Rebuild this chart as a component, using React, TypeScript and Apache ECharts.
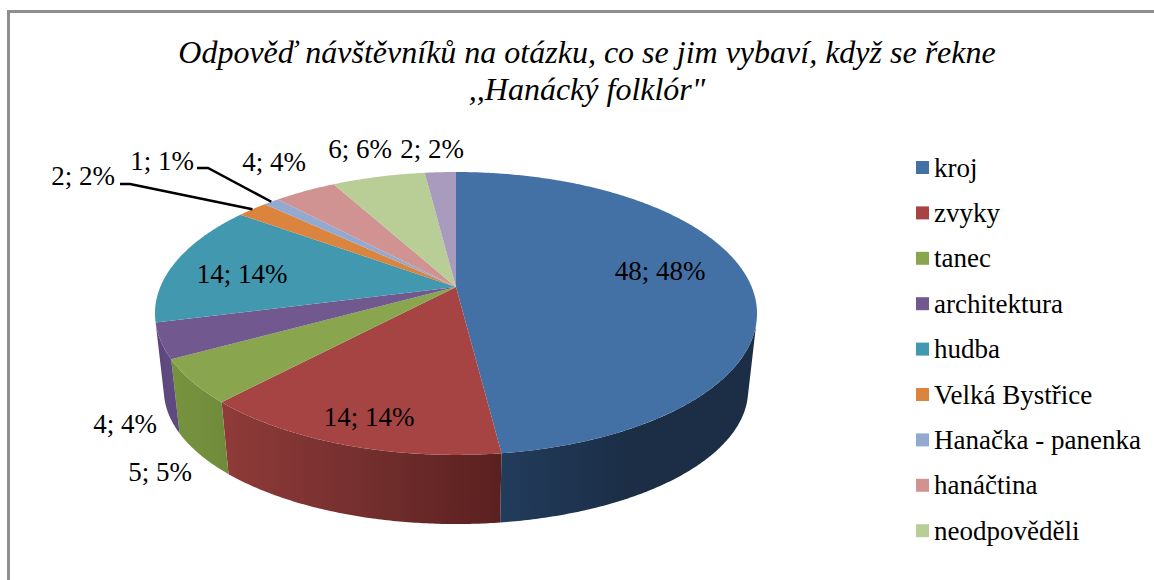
import React, { useEffect, useRef } from "react";
import * as echarts from "echarts";

const titleText = "Odpověď návštěvníků na otázku, co se jim vybaví, když se řekne\n,,Hanácký folklór\"";
const categories = ["kroj", "zvyky", "tanec", "architektura", "hudba", "Velká Bystřice", "Hanačka - panenka", "hanáčtina", "neodpověděli", "ostatní"];
const legendNames = categories.slice(0, 9);
const values = [48, 14, 5, 4, 14, 2, 1, 4, 6, 2];
const colors = ["#4471a5", "#a54442", "#89a54e", "#71588f", "#4198af", "#db843d", "#93a9cf", "#d19392", "#b9cd96", "#a99bbd"];
const wallStops: (string[] | null)[] = [
  ["#223c5c", "#1b2e46", "#1b2e46"],
  ["#8f3b39", "#742f2e", "#5a201f"],
  ["#78933f", "#748f3d", "#6f8a3a"],
  ["#5a4578", "#5f4a80", "#5f4a80"],
  null, null, null, null, null, null,
];
const labelCenters: [number, number][] = [[660, 271], [369, 417], [160, 472], [125, 424], [242, 274], [83, 176], [162, 161], [274, 162], [360, 149], [432, 149]];
const leaderStarts: Record<number, [number, number][]> = {
  5: [[120, 184], [130, 184]],
  6: [[197, 168], [208, 168]],
};

const total = values.reduce((a, b) => a + b, 0);
const top = { cx: 456, cy: 287, a: 295.7, b: 136.5, p: 0.187 };
const bottom = { cx: 456, cy: 365, a: 287, b: 129.3, p: 0.187 };
const wallFrom = 104;
const wallTo = 256;

function project(g: typeof top, deg: number): [number, number] {
  const t = (deg * Math.PI) / 180;
  const X = Math.sin(t);
  const Y = Math.cos(t);
  const w = 1 + g.p * Y;
  return [g.cx + (g.a * X) / w, g.cy - (g.b * Y) / w];
}
function arc(g: typeof top, from: number, to: number): [number, number][] {
  const n = Math.max(2, Math.ceil(Math.abs(to - from) * 2));
  const pts: [number, number][] = [];
  for (let i = 0; i <= n; i++) pts.push(project(g, from + ((to - from) * i) / n));
  return pts;
}

const textBase = { fontFamily: "'Liberation Serif'", fill: "#000" };

function makeSeries(index: number) {
  const before = values.slice(0, index).reduce((a, b) => a + b, 0);
  const start = (before / total) * 360;
  const end = ((before + values[index]) / total) * 360;
  return {
    type: "custom",
    name: categories[index],
    coordinateSystem: "none",
    silent: true,
    itemStyle: { color: colors[index] },
    data: [[values[index]]],
    renderItem: () => {
      const children: any[] = [];
      const w1 = Math.max(start, wallFrom);
      const w2 = Math.min(end, wallTo);
      if (w2 > w1 && wallStops[index]) {
        const st = wallStops[index] as string[];
        children.push({
          type: "polygon",
          z2: 1,
          shape: { points: [...arc(top, w1, w2), ...arc(bottom, w2, w1)] },
          style: {
            fill: new echarts.graphic.LinearGradient(0, 0, 1, 0, [
              { offset: 0, color: st[0] },
              { offset: 0.5, color: st[1] },
              { offset: 1, color: st[2] },
            ]),
          },
        });
      }
      children.push({
        type: "polygon",
        z2: 2,
        shape: { points: [[top.cx, top.cy], ...arc(top, start, end)] },
        style: { fill: colors[index] },
      });
      const lead = leaderStarts[index];
      if (lead) {
        children.push({
          type: "polyline",
          z2: 3,
          shape: { points: [...lead, project(top, (start + end) / 2)] },
          style: { fill: "none", stroke: "#000", lineWidth: 2.5 },
        });
      }
      const [lx, ly] = labelCenters[index];
      children.push({
        type: "text",
        z2: 4,
        x: lx,
        y: ly,
        style: {
          ...textBase,
          text: `${values[index]}; ${Math.round((values[index] / total) * 100)}%`,
          fontSize: 27,
          align: "center",
          verticalAlign: "middle",
        },
      });
      return { type: "group", children };
    },
  };
}

export default function App() {
  const ref = useRef<HTMLDivElement>(null);
  useEffect(() => {
    const chart = echarts.init(ref.current!, undefined, { renderer: "svg" });
    chart.setOption({
      animation: false,
      backgroundColor: "#fff",
      title: {
        text: titleText,
        left: 582,
        top: 28,
        textAlign: "center",
        textStyle: {
          fontFamily: "'Liberation Serif'",
          fontStyle: "italic",
          fontWeight: "normal",
          fontSize: 32,
          lineHeight: 37,
          color: "#000",
        },
      },
      legend: {
        data: legendNames,
        orient: "vertical",
        left: 916,
        top: 154,
        padding: 0,
        itemWidth: 13,
        itemHeight: 13,
        itemGap: 18.4,
        itemStyle: { borderWidth: 0 },
        icon: "rect",
        selectedMode: false,
        textStyle: {
          fontFamily: "'Liberation Serif'",
          fontSize: 27,
          lineHeight: 24,
          color: "#000",
        },
      },
      graphic: [
        { type: "rect", shape: { x: 7, y: 10, width: 1147, height: 3 }, style: { fill: "#8e8e8e" } },
        { type: "rect", shape: { x: 7, y: 10, width: 3, height: 570 }, style: { fill: "#8e8e8e" } },
      ],
      series: categories.map((_, i) => makeSeries(i)),
    });
    return () => chart.dispose();
  }, []);
  return <div ref={ref} style={{ position: "fixed", left: 0, top: 0, width: 1154, height: 580 }} />;
}
